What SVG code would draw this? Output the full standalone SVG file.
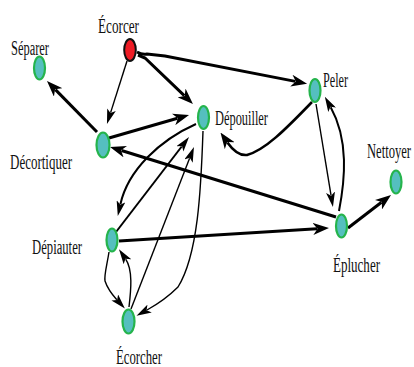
<svg xmlns="http://www.w3.org/2000/svg" width="414" height="367" viewBox="0 0 414 367">
<style>
.n{fill:#55bfbf;stroke:#25b44c;stroke-width:2.2}
.r{fill:#ee1c25;stroke:#111;stroke-width:2}
.t{font-family:"Liberation Serif","Times New Roman",serif;font-size:20.5px;fill:#111}
.k{fill:none;stroke:#000;stroke-width:3;marker-end:url(#ab)}
.m{fill:none;stroke:#000;stroke-width:2;marker-end:url(#as)}
.s{fill:none;stroke:#000;stroke-width:1.4;marker-end:url(#as)}
</style>
<defs>
<marker id="ab" markerUnits="userSpaceOnUse" viewBox="0 0 16 12" markerWidth="16" markerHeight="12" refX="4" refY="6" orient="auto"><path d="M0,0 L16,6 L0,12 L4.5,6 Z" fill="#000"/></marker>
<marker id="as" markerUnits="userSpaceOnUse" viewBox="0 0 15 9" markerWidth="15" markerHeight="9" refX="3" refY="4.5" orient="auto"><path d="M0,0 L15,4.5 L0,9 L3.5,4.5 Z" fill="#000"/></marker>
</defs>
<rect width="414" height="367" fill="#fff"/>
<g id="edges">
<path class="s" d="M127,61 L110.6,112.6"/>
<path class="k" d="M138,55 L145,58 L184.3,95.7"/>
<path class="k" d="M137,52 Q142,55 147,54 L165,56 L295.3,81.4"/>
<path class="k" d="M97,132 L55.4,89.6"/>
<path class="k" d="M109,138 L177.5,118.3"/>
<path class="k" d="M336,217 L121.5,150.5"/>
<path class="k" d="M312,102 C285,130 265,150 247,155 Q237,156 227.4,142.4" style="stroke-width:2.6"/>
<path class="s" d="M316,104 L331,195.2"/>
<path class="m" d="M339,211 C345,180 349,140 330.7,107.2"/>
<path class="k" d="M348,228 L381.5,202.3"/>
<path class="k" d="M119,241 L317,228.7"/>
<path class="m" d="M196,124 C160,140 128,170 120.4,204.2"/>
<path class="m" d="M116,232 L181.7,146.5"/>
<path class="s" d="M131,309 L189.6,158.2"/>
<path class="s" d="M203,131 C201,190 198,255 178,287 Q165,300 147,310"/>
<path class="s" d="M109,252 C107,265 104,275 105,281 Q108,290 116.8,299.7"/>
<path class="s" d="M129,307 C131,290 133,270 125.7,259.2"/>
</g>
<g id="n-ecorcer"><ellipse class="r" cx="130" cy="50" rx="5.8" ry="11"/><text class="t" x="98" y="32.5" textLength="41" lengthAdjust="spacingAndGlyphs">Écorcer</text></g>
<g id="n-separer"><ellipse class="n" cx="39.5" cy="68" rx="5.5" ry="11.5"/><text class="t" x="11" y="55" textLength="38" lengthAdjust="spacingAndGlyphs">Séparer</text></g>
<g id="n-decortiquer"><ellipse class="n" cx="103" cy="145" rx="6.5" ry="12.5"/><text class="t" x="10" y="169" textLength="62" lengthAdjust="spacingAndGlyphs">Décortiquer</text></g>
<g id="n-depouiller"><ellipse class="n" cx="203.5" cy="117.5" rx="5.5" ry="11.5"/><text class="t" x="215" y="125" textLength="53" lengthAdjust="spacingAndGlyphs">Dépouiller</text></g>
<g id="n-peler"><ellipse class="n" cx="315" cy="90.5" rx="5.5" ry="11.5"/><text class="t" x="323" y="86.5" textLength="25" lengthAdjust="spacingAndGlyphs">Peler</text></g>
<g id="n-nettoyer"><ellipse class="n" cx="396" cy="182" rx="5.5" ry="11.5"/><text class="t" transform="translate(367,158) scale(0.615,1)" x="0" y="0">Nettoyer</text></g>
<g id="n-eplucher"><ellipse class="n" cx="341.5" cy="226" rx="5.5" ry="11.5"/><text class="t" x="333" y="272" textLength="47" lengthAdjust="spacingAndGlyphs">Éplucher</text></g>
<g id="n-depiauter"><ellipse class="n" cx="112" cy="240" rx="5.5" ry="11.5"/><text class="t" x="32" y="254" textLength="50" lengthAdjust="spacingAndGlyphs">Dépiauter</text></g>
<g id="n-ecorcher"><ellipse class="n" cx="128.5" cy="321.5" rx="6" ry="12"/><text class="t" x="116" y="364" textLength="46" lengthAdjust="spacingAndGlyphs">Écorcher</text></g>
</svg>
